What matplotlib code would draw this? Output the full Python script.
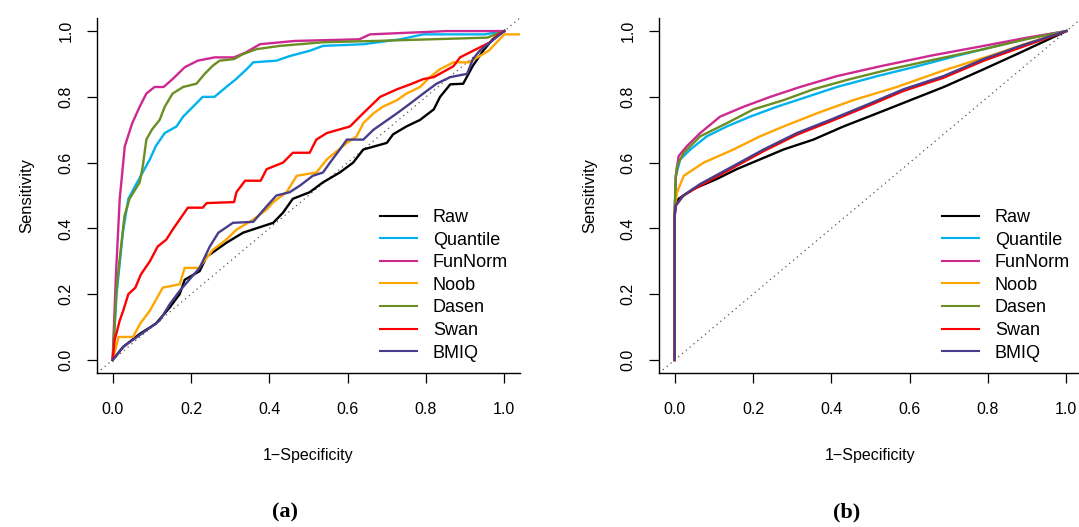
import matplotlib
matplotlib.use('Agg')
import matplotlib.pyplot as plt

# ROC curves: 1-specificity (fpr) vs sensitivity (tpr)
methods = ['Raw', 'Quantile', 'FunNorm', 'Noob', 'Dasen', 'Swan', 'BMIQ']
colors = ['#000000', '#00B2EE', '#CD2990', '#FFA500', '#6B8E23', '#FF0000', '#483D8B']

# panel (a)
raw_a_fpr = [0, 0.027, 0.07, 0.11, 0.146, 0.171, 0.184, 0.222, 0.24, 0.29, 0.333, 0.41, 0.435, 0.46,
             0.503, 0.537, 0.58, 0.614, 0.64, 0.70, 0.716, 0.75, 0.785, 0.82, 0.836, 0.862, 0.895,
             0.92, 0.946, 0.97, 1.0]
raw_a_tpr = [0, 0.04, 0.08, 0.11, 0.16, 0.20, 0.244, 0.27, 0.314, 0.356, 0.387, 0.417, 0.448, 0.49,
             0.51, 0.54, 0.57, 0.60, 0.64, 0.66, 0.686, 0.71, 0.73, 0.762, 0.80, 0.838, 0.84,
             0.895, 0.94, 0.975, 1.0]
quantile_a_fpr = [0, 0.01, 0.026, 0.04, 0.058, 0.095, 0.11, 0.133, 0.163, 0.18, 0.205, 0.23, 0.26,
                  0.29, 0.316, 0.342, 0.359, 0.418, 0.452, 0.503, 0.537, 0.64, 0.734, 0.793, 0.95, 1.0]
quantile_a_tpr = [0, 0.2, 0.387, 0.49, 0.53, 0.61, 0.65, 0.69, 0.71, 0.74, 0.77, 0.80, 0.80,
                  0.83, 0.855, 0.884, 0.905, 0.91, 0.924, 0.94, 0.955, 0.96, 0.975, 0.99, 0.99, 1.0]
funnorm_a_fpr = [0, 0.008, 0.018, 0.031, 0.05, 0.069, 0.086, 0.107, 0.13, 0.153, 0.184, 0.217, 0.26,
                 0.31, 0.34, 0.376, 0.465, 0.63, 0.657, 0.854, 1.0]
funnorm_a_tpr = [0, 0.25, 0.49, 0.65, 0.72, 0.77, 0.81, 0.83, 0.83, 0.854, 0.89, 0.91, 0.92,
                 0.92, 0.935, 0.96, 0.97, 0.975, 0.99, 1.0, 1.0]
noob_a_fpr = [0, 0.015, 0.052, 0.07, 0.095, 0.128, 0.171, 0.184, 0.22, 0.256, 0.29, 0.316, 0.359,
              0.393, 0.41, 0.444, 0.47, 0.52, 0.547, 0.598, 0.623, 0.64, 0.666, 0.69, 0.726, 0.75,
              0.785, 0.81, 0.836, 0.87, 0.91, 0.96, 1.0, 1.05]
noob_a_tpr = [0, 0.07, 0.07, 0.11, 0.15, 0.22, 0.23, 0.28, 0.28, 0.335, 0.366, 0.396, 0.427,
              0.457, 0.48, 0.51, 0.56, 0.57, 0.61, 0.66, 0.68, 0.72, 0.75, 0.77, 0.79, 0.81,
              0.83, 0.86, 0.884, 0.905, 0.905, 0.94, 0.99, 0.99]
dasen_a_fpr = [0, 0.01, 0.03, 0.043, 0.069, 0.077, 0.086, 0.1, 0.12, 0.133, 0.153, 0.18, 0.214,
               0.235, 0.256, 0.273, 0.31, 0.333, 0.367, 0.427, 0.537, 0.67, 0.956, 1.0]
dasen_a_tpr = [0, 0.22, 0.437, 0.49, 0.54, 0.59, 0.67, 0.70, 0.73, 0.77, 0.81, 0.83, 0.84,
               0.87, 0.895, 0.91, 0.915, 0.93, 0.945, 0.955, 0.966, 0.97, 0.98, 1.0]
swan_a_fpr = [0, 0.005, 0.018, 0.027, 0.04, 0.058, 0.072, 0.095, 0.115, 0.137, 0.153, 0.171, 0.192,
              0.23, 0.24, 0.31, 0.316, 0.338, 0.378, 0.393, 0.435, 0.46, 0.503, 0.52, 0.547, 0.606,
              0.631, 0.657, 0.683, 0.726, 0.76, 0.793, 0.82, 0.87, 0.887, 0.92, 0.964, 0.985, 1.0]
swan_a_tpr = [0, 0.06, 0.12, 0.15, 0.20, 0.22, 0.26, 0.30, 0.345, 0.366, 0.396, 0.427, 0.463,
              0.463, 0.477, 0.48, 0.51, 0.545, 0.545, 0.58, 0.60, 0.63, 0.63, 0.67, 0.69, 0.71,
              0.74, 0.77, 0.80, 0.823, 0.838, 0.854, 0.86, 0.893, 0.92, 0.94, 0.966, 0.99, 1.0]
bmiq_a_fpr = [0, 0.027, 0.086, 0.12, 0.146, 0.171, 0.20, 0.222, 0.248, 0.27, 0.307, 0.359, 0.393,
              0.418, 0.452, 0.478, 0.511, 0.537, 0.555, 0.58, 0.598, 0.64, 0.666, 0.69, 0.726,
              0.76, 0.793, 0.827, 0.862, 0.905, 0.92, 0.937, 0.964, 1.0]
bmiq_a_tpr = [0, 0.04, 0.09, 0.12, 0.17, 0.21, 0.25, 0.28, 0.345, 0.387, 0.417, 0.42, 0.467,
              0.50, 0.51, 0.53, 0.56, 0.57, 0.60, 0.64, 0.67, 0.67, 0.70, 0.72, 0.75,
              0.78, 0.81, 0.84, 0.86, 0.87, 0.915, 0.94, 0.966, 1.0]

# panel (b)
raw_b_fpr = [0, 0, 0.002, 0.01, 0.048, 0.107, 0.158, 0.218, 0.278, 0.354, 0.431, 0.517, 0.602,
             0.687, 0.789, 0.883, 1.0]
raw_b_tpr = [0, 0.44, 0.47, 0.49, 0.52, 0.55, 0.58, 0.61, 0.64, 0.67, 0.71, 0.75, 0.79,
             0.83, 0.884, 0.935, 1.0]
quantile_b_fpr = [0, 0, 0.003, 0.014, 0.04, 0.082, 0.133, 0.193, 0.261, 0.338, 0.414, 0.517,
                  0.619, 0.721, 0.823, 0.91, 1.0]
quantile_b_tpr = [0, 0.45, 0.56, 0.61, 0.64, 0.68, 0.71, 0.74, 0.77, 0.80, 0.83, 0.863,
                  0.893, 0.925, 0.955, 0.98, 1.0]
funnorm_b_fpr = [0, 0, 0.003, 0.01, 0.031, 0.065, 0.116, 0.176, 0.244, 0.32, 0.414, 0.525,
                 0.653, 0.789, 0.9, 1.0]
funnorm_b_tpr = [0, 0.45, 0.56, 0.62, 0.65, 0.69, 0.74, 0.77, 0.80, 0.83, 0.863, 0.893,
                 0.925, 0.955, 0.98, 1.0]
noob_b_fpr = [0, 0, 0.002, 0.006, 0.023, 0.074, 0.15, 0.218, 0.278, 0.363, 0.456, 0.567,
              0.686, 0.806, 0.908, 1.0]
noob_b_tpr = [0, 0.44, 0.48, 0.51, 0.56, 0.60, 0.64, 0.68, 0.71, 0.75, 0.79, 0.83,
              0.88, 0.925, 0.966, 1.0]
dasen_b_fpr = [0, 0, 0.002, 0.006, 0.023, 0.065, 0.133, 0.201, 0.278, 0.354, 0.448, 0.55,
               0.67, 0.789, 0.9, 1.0]
dasen_b_tpr = [0, 0.45, 0.55, 0.59, 0.63, 0.68, 0.72, 0.762, 0.79, 0.823, 0.854, 0.884,
               0.915, 0.945, 0.976, 1.0]
swan_b_fpr = [0, 0, 0.003, 0.022, 0.065, 0.15, 0.227, 0.312, 0.397, 0.499, 0.584, 0.686,
              0.789, 0.883, 1.0]
swan_b_tpr = [0, 0.44, 0.47, 0.50, 0.53, 0.585, 0.635, 0.685, 0.725, 0.775, 0.818, 0.858,
              0.91, 0.95, 1.0]
bmiq_b_fpr = [0, 0, 0.003, 0.022, 0.065, 0.15, 0.227, 0.312, 0.397, 0.499, 0.584, 0.686,
              0.789, 0.883, 1.0]
bmiq_b_tpr = [0, 0.44, 0.47, 0.50, 0.535, 0.59, 0.64, 0.69, 0.73, 0.78, 0.823, 0.863,
              0.915, 0.955, 1.0]

curves_a = [(raw_a_fpr, raw_a_tpr), (quantile_a_fpr, quantile_a_tpr), (funnorm_a_fpr, funnorm_a_tpr),
            (noob_a_fpr, noob_a_tpr), (dasen_a_fpr, dasen_a_tpr), (swan_a_fpr, swan_a_tpr),
            (bmiq_a_fpr, bmiq_a_tpr)]
curves_b = [(raw_b_fpr, raw_b_tpr), (quantile_b_fpr, quantile_b_tpr), (funnorm_b_fpr, funnorm_b_tpr),
            (noob_b_fpr, noob_b_tpr), (dasen_b_fpr, dasen_b_tpr), (swan_b_fpr, swan_b_tpr),
            (bmiq_b_fpr, bmiq_b_tpr)]
ticks = [0.0, 0.2, 0.4, 0.6, 0.8, 1.0]
tick_labels = ['0.0', '0.2', '0.4', '0.6', '0.8', '1.0']

font = 'Liberation Sans'

fig = plt.figure(figsize=(10.79, 5.27), dpi=100)
ax_a = fig.add_axes([0.0899, 0.292, 0.392, 0.674])
ax_b = fig.add_axes([0.6108, 0.292, 0.392, 0.674])


def draw_panel(ax, curves, caption, cap_x):
    ax.axline((0, 0), (1, 1), color='#555555', lw=0.9, ls=(0, (1, 3)), zorder=1)
    for (fpr, tpr), name, col in zip(curves, methods, colors):
        ax.plot(fpr, tpr, color=col, lw=1.7, label=name, zorder=2)
    ax.set_xlim(-0.04, 1.04)
    ax.set_ylim(-0.04, 1.04)
    for side in ['top', 'right']:
        ax.spines[side].set_visible(False)
    for side in ['left', 'bottom']:
        ax.spines[side].set_linewidth(1.0)
    ax.set_xticks(ticks)
    ax.set_yticks(ticks)
    ax.set_xticklabels(tick_labels, fontfamily=font, fontsize=11.5)
    ax.set_yticklabels(tick_labels, fontfamily=font, fontsize=11.5, rotation=90, va='center')
    ax.tick_params(direction='out', length=7, width=0.9)
    ax.tick_params(axis='x', pad=14)
    ax.tick_params(axis='y', pad=10)
    ax.set_xlabel('1\u2212Specificity', fontfamily=font, fontsize=11.5, labelpad=22)
    ax.set_ylabel('Sensitivity', fontfamily=font, fontsize=12, labelpad=17)
    leg = ax.legend(loc='upper left', bbox_to_anchor=(0.67, 0.462), frameon=False,
                    prop={'family': font, 'size': 13}, handlelength=2.0,
                    handletextpad=0.9, labelspacing=0.31, borderpad=0, borderaxespad=0)
    for line in leg.get_lines():
        line.set_linewidth(1.5)
    fig.text(cap_x, 0.028, caption, ha='center', va='center', fontfamily='Liberation Serif',
             fontweight='bold', fontsize=16)


draw_panel(ax_a, curves_a, '(a)', 0.264)
draw_panel(ax_b, curves_b, '(b)', 0.785)

fig.savefig('out.png', dpi=100)
